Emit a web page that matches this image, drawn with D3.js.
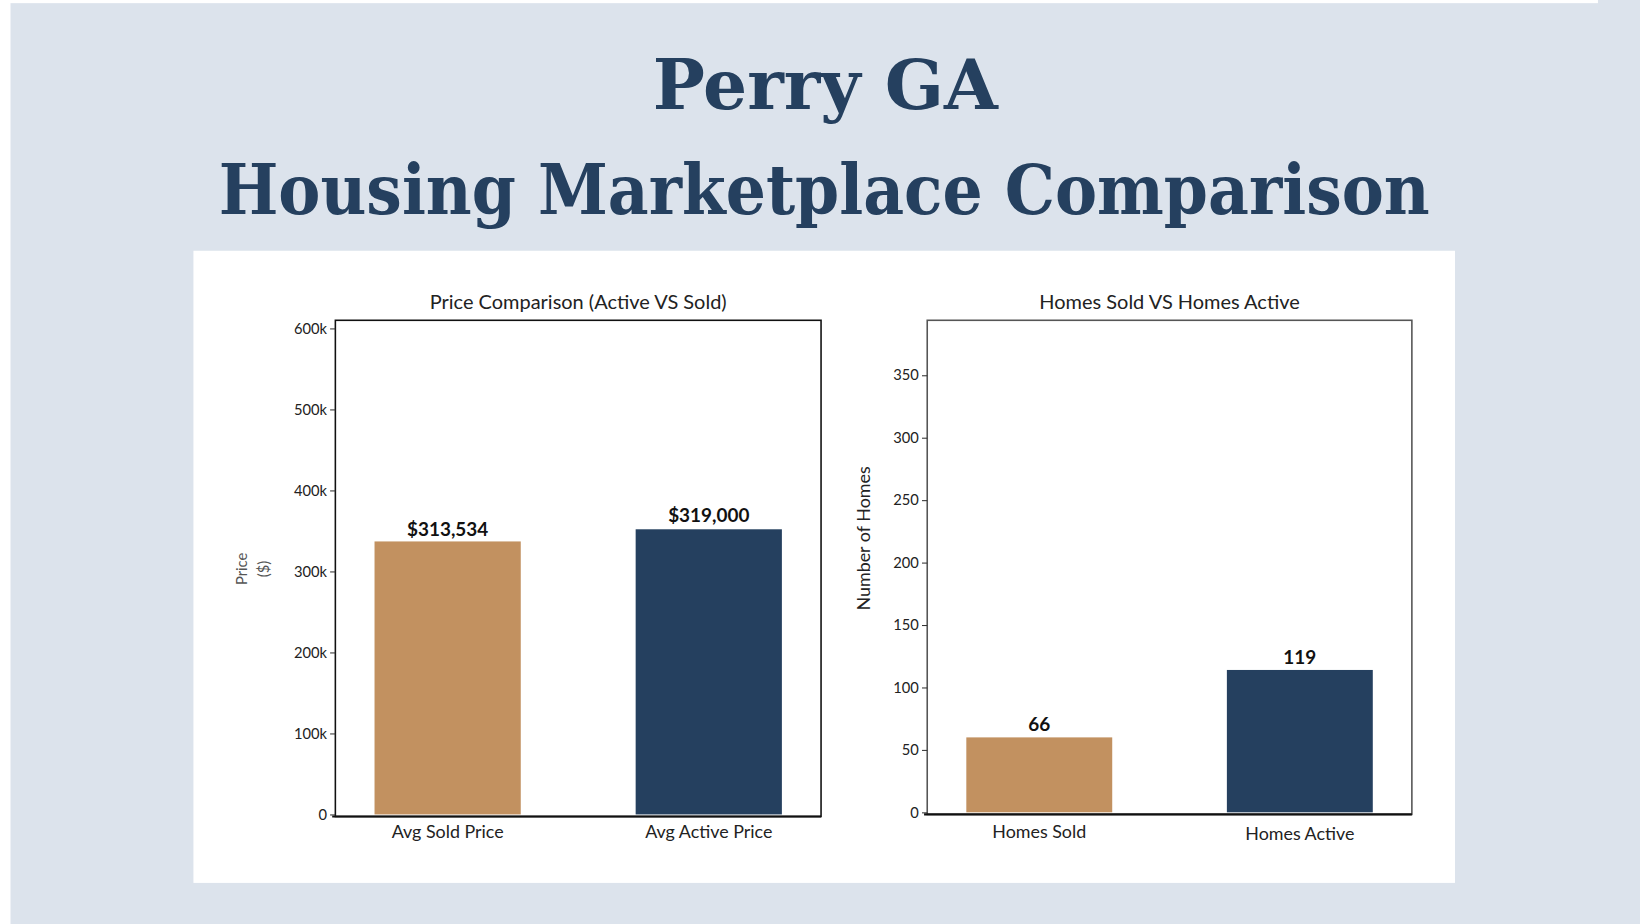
<!DOCTYPE html>
<html><head><meta charset="utf-8">
<script src="https://cdn.jsdelivr.net/npm/d3@7"></script>
<style>body{margin:0;background:#dce3ec}svg{display:block}</style>
</head><body><svg></svg>
<script>
// values
const priceCats = ["Avg Sold Price", "Avg Active Price"]
const priceBars = [337000, 352000]
const priceLabels = ["$313,534", "$319,000"]
const priceTicks = [0, 100000, 200000, 300000, 400000, 500000, 600000]
const priceTickLabels = ["0", "100k", "200k", "300k", "400k", "500k", "600k"]

const homeCats = ["Homes Sold", "Homes Active"]
const homeBars = [60, 114]
const homeLabels = ["66", "119"]
const homeTicks = [0, 50, 100, 150, 200, 250, 300, 350]

const colors = ["#c29160", "#25405f"]
const font = "Lato, 'Noto Sans', sans-serif"

const svg = d3.select("svg")
  .attr("width", 1640).attr("height", 924)
  .attr("viewBox", "0 0 1560 877")
  .attr("preserveAspectRatio", "none")

svg.append("rect").attr("width", 1560).attr("height", 877).attr("fill", "#dce3ec")
svg.append("rect").attr("width", 10).attr("height", 877).attr("fill", "#fff")
svg.append("rect").attr("width", 1520).attr("height", 3).attr("fill", "#fff")

const title = svg.append("g").attr("fill", "#25405f").attr("font-family", "'DejaVu Serif', serif")
  .attr("font-weight", "bold").attr("text-anchor", "middle")
title.append("text").attr("x", 785).attr("y", 103).attr("font-size", 66).text("Perry GA")
title.append("text").attr("x", 784).attr("y", 203).attr("font-size", 66)
  .attr("textLength", 1152).attr("lengthAdjust", "spacingAndGlyphs").text("Housing Marketplace Comparison")

svg.append("rect").attr("x", 184).attr("y", 238).attr("width", 1200).attr("height", 600).attr("fill", "#fff")

function chart(o) {
  const g = svg.append("g").attr("font-family", font)
  const x = d3.scaleBand().domain(o.cats).range([o.x0, o.x1]).paddingInner(0.44).paddingOuter(0.15)
  const y = d3.scaleLinear().domain(o.domain).range([o.y0, 304])

  g.append("rect").attr("x", o.x0).attr("y", 304).attr("width", o.x1 - o.x0).attr("height", o.y0 - 304 + 2)
    .attr("fill", "none").attr("stroke", o.boxColor).attr("stroke-width", 1.5)

  g.selectAll(".bar").data(o.vals).enter().append("rect")
    .attr("x", (d, i) => x(o.cats[i])).attr("width", x.bandwidth())
    .attr("y", d => y(d)).attr("height", d => y(0) - y(d))
    .attr("fill", (d, i) => colors[i])

  g.selectAll(".lab").data(o.vals).enter().append("text")
    .attr("x", (d, i) => x(o.cats[i]) + x.bandwidth() / 2 + o.labDx[i])
    .attr("y", (d, i) => y(d) - o.labDy[i])
    .attr("text-anchor", "middle").attr("font-size", 18).attr("font-weight", "bold").attr("fill", "#111")
    .text((d, i) => o.labels[i])

  g.append("line").attr("x1", o.x0 - 3).attr("x2", o.x1).attr("y1", o.y0 + 2).attr("y2", o.y0 + 2)
    .attr("stroke", "#111").attr("stroke-width", 2)

  const ax = g.append("g").attr("transform", `translate(${o.x0},0)`)
    .call(d3.axisLeft(y).tickValues(o.ticks).tickSize(5).tickFormat((d, i) => o.tickLabels[i]))
  ax.select(".domain").remove()
  ax.selectAll("line").attr("stroke", "#333")
  ax.selectAll("text").attr("font-family", font).attr("font-size", 14).attr("fill", "#222")

  g.selectAll(".xl").data(o.cats).enter().append("text")
    .attr("x", d => x(d) + x.bandwidth() / 2).attr("y", (d, i) => 795 + o.xlDy[i])
    .attr("text-anchor", "middle").attr("font-size", 17).attr("fill", "#222").text(d => d)

  g.append("text").attr("x", (o.x0 + o.x1) / 2).attr("y", 293).attr("text-anchor", "middle")
    .attr("font-size", 19).attr("fill", "#222").text(o.title)
  return g
}

chart({cats: priceCats, vals: priceBars, labels: priceLabels, ticks: priceTicks, tickLabels: priceTickLabels,
  domain: [0, 610000], x0: 319, x1: 781, y0: 773, boxColor: "#111", labDx: [0, 0], labDy: [5, 7], xlDy: [0, 0],
  title: "Price Comparison (Active VS Sold)"})
const g2 = chart({cats: homeCats, vals: homeBars, labels: homeLabels, ticks: homeTicks, tickLabels: homeTicks.map(String),
  domain: [0, 394], x0: 882, x1: 1343, y0: 771, boxColor: "#555", labDx: [0, 0], labDy: [6, 6], xlDy: [0, 2],
  title: "Homes Sold VS Homes Active"})

svg.append("text").attr("transform", "translate(235,540) rotate(-90)").attr("text-anchor", "middle")
  .attr("font-family", font).attr("font-size", 14).attr("fill", "#555").text("Price")
svg.append("text").attr("transform", "translate(256,540) rotate(-90)").attr("text-anchor", "middle")
  .attr("font-family", font).attr("font-size", 14).attr("fill", "#555").text("($)")
svg.append("text").attr("transform", "translate(828,511) rotate(-90)").attr("text-anchor", "middle")
  .attr("font-family", font).attr("font-size", 17).attr("fill", "#222").text("Number of Homes")
</script></body></html>
